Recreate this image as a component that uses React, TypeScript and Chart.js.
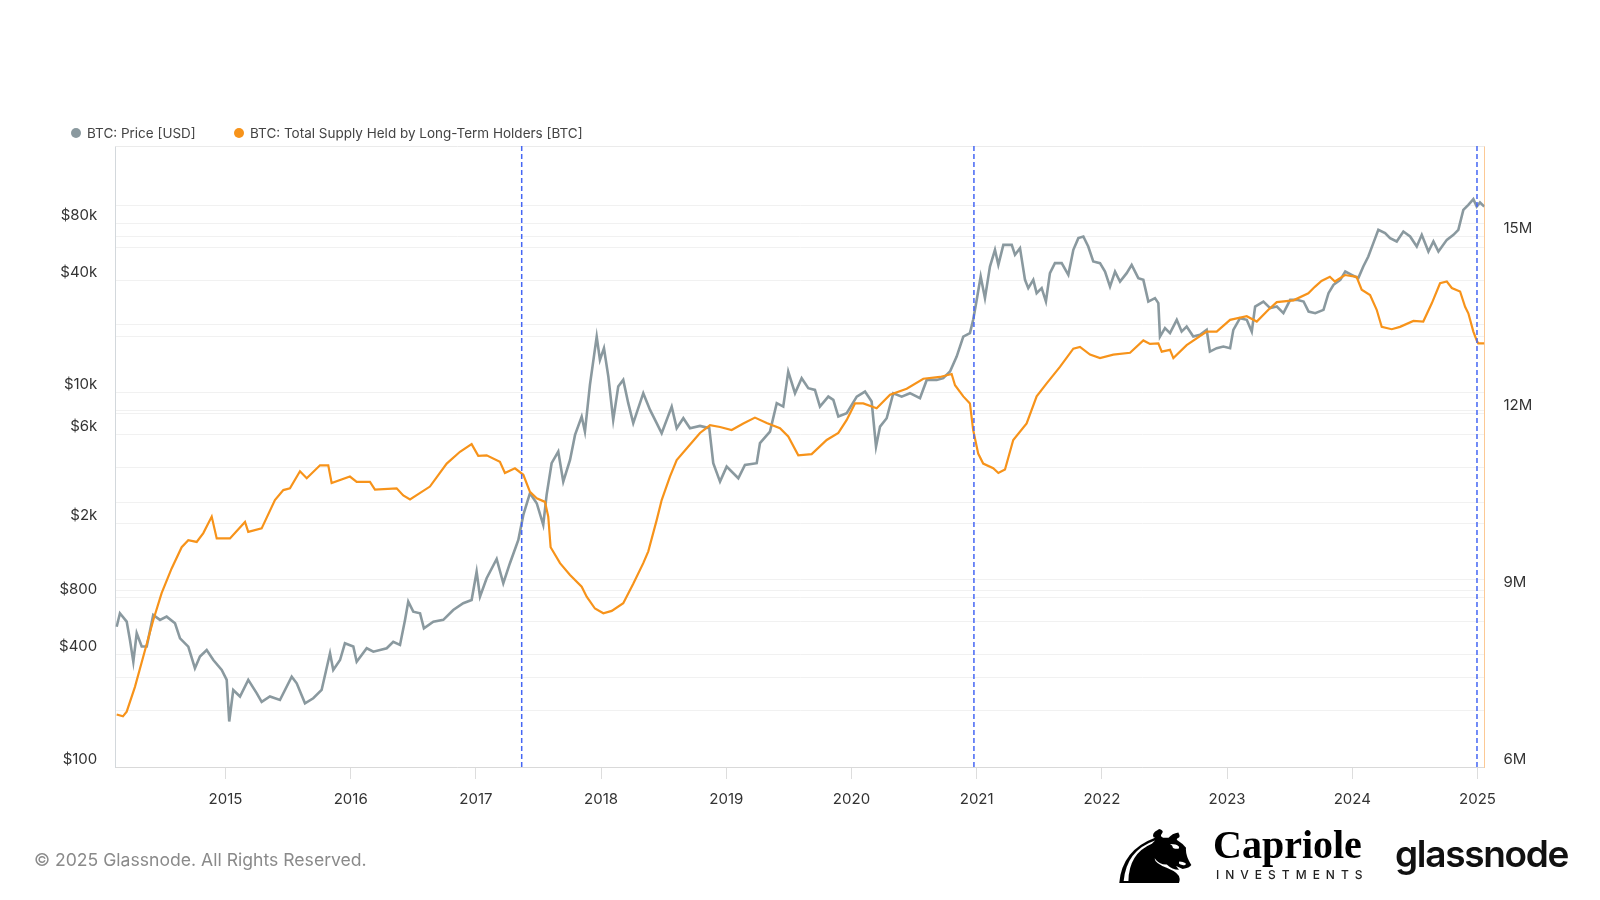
import { useEffect, useRef } from "react"
import { Chart, registerables } from "chart.js"

Chart.register(...registerables)

// BTC price (USD), x as decimal years
const priceYears = [
  2014.131, 2014.157, 2014.211, 2014.237, 2014.264, 2014.291, 2014.331, 2014.371, 2014.423, 2014.477,
  2014.53, 2014.597, 2014.637, 2014.703, 2014.756, 2014.796, 2014.85, 2014.903, 2014.97, 2015.01,
  2015.03, 2015.062, 2015.116, 2015.182, 2015.249, 2015.289, 2015.355, 2015.435, 2015.529, 2015.569,
  2015.635, 2015.701, 2015.768, 2015.835, 2015.861, 2015.915, 2015.954, 2016.021, 2016.048, 2016.128,
  2016.181, 2016.288, 2016.34, 2016.394, 2016.434, 2016.46, 2016.5, 2016.554, 2016.585, 2016.66,
  2016.74, 2016.819, 2016.899, 2016.966, 2017.006, 2017.033, 2017.086, 2017.166, 2017.219, 2017.272,
  2017.339, 2017.379, 2017.432, 2017.486, 2017.538, 2017.565, 2017.605, 2017.658, 2017.698, 2017.752,
  2017.792, 2017.845, 2017.871, 2017.911, 2017.965, 2017.991, 2018.023, 2018.058, 2018.097, 2018.137,
  2018.177, 2018.217, 2018.257, 2018.337, 2018.391, 2018.444, 2018.484, 2018.564, 2018.604, 2018.657,
  2018.71, 2018.79, 2018.864, 2018.896, 2018.95, 2019.003, 2019.096, 2019.149, 2019.243, 2019.269,
  2019.349, 2019.403, 2019.455, 2019.495, 2019.549, 2019.602, 2019.655, 2019.708, 2019.748, 2019.815,
  2019.855, 2019.895, 2019.962, 2020.042, 2020.108, 2020.161, 2020.196, 2020.228, 2020.281, 2020.334,
  2020.401, 2020.467, 2020.547, 2020.601, 2020.681, 2020.733, 2020.787, 2020.84, 2020.893, 2020.946,
  2020.972, 2021.0, 2021.032, 2021.066, 2021.106, 2021.146, 2021.173, 2021.213, 2021.28, 2021.306,
  2021.346, 2021.386, 2021.412, 2021.452, 2021.479, 2021.519, 2021.553, 2021.585, 2021.625, 2021.679,
  2021.732, 2021.772, 2021.812, 2021.852, 2021.891, 2021.931, 2021.985, 2022.025, 2022.065, 2022.105,
  2022.145, 2022.198, 2022.238, 2022.291, 2022.331, 2022.371, 2022.424, 2022.451, 2022.464, 2022.504,
  2022.544, 2022.598, 2022.637, 2022.677, 2022.73, 2022.784, 2022.837, 2022.863, 2022.917, 2022.97,
  2023.024, 2023.05, 2023.103, 2023.157, 2023.197, 2023.224, 2023.29, 2023.344, 2023.397, 2023.45,
  2023.504, 2023.557, 2023.611, 2023.651, 2023.704, 2023.77, 2023.81, 2023.85, 2023.904, 2023.944,
  2023.995, 2024.048, 2024.088, 2024.128, 2024.168, 2024.208, 2024.262, 2024.302, 2024.355, 2024.408,
  2024.462, 2024.515, 2024.555, 2024.608, 2024.648, 2024.688, 2024.755, 2024.808, 2024.847, 2024.887,
  2024.927, 2024.967, 2024.994, 2025.02, 2025.054,
]
const priceUsd = [
  562, 663, 598, 477, 365, 518, 440, 440, 649, 611,
  636, 586, 487, 440, 337, 389, 422, 373, 330, 292,
  175, 258, 238, 292, 248, 223, 238, 228, 304, 280,
  219, 233, 258, 405, 330, 373, 458, 440, 365, 431,
  413, 431, 467, 449, 611, 765, 676, 663, 551, 598,
  611, 690, 750, 781, 1106, 813, 1020, 1293, 959, 1227,
  1634, 2223, 2903, 2567, 1966, 2843, 4200, 4844, 3349, 4374,
  5950, 7454, 6196, 11010, 19940, 14970, 17290, 12190, 7154, 10780,
  11700, 8788, 6871, 9938, 8091, 6871, 6074, 8426, 6463, 7305,
  6463, 6647, 6463, 4200, 3349, 4027, 3491, 4113, 4200, 5372,
  6196, 8788, 8426, 12970, 9938, 11950, 10570, 10350, 8426, 9532,
  9152, 7454, 7768, 9532, 10140, 8965, 5152, 6588, 7305, 9938,
  9532, 9938, 9346, 11700, 11700, 11950, 12970, 15590, 19940, 20800,
  24500, 31300, 41740, 32000, 47210, 57980, 48210, 61660, 61660, 54520,
  59200, 40080, 36180, 40080, 34020, 36180, 30690, 43520, 49220, 49220,
  42620, 57980, 66960, 68290, 60380, 50210, 49220, 44380, 36900, 44380,
  39250, 43520, 48210, 40930, 40080, 30690, 32000, 30090, 19940, 22120,
  20800, 24500, 21210, 22560, 19940, 20370, 21660, 16580, 17290, 17640,
  17290, 21660, 25020, 24500, 21210, 28860, 30690, 28290, 28860, 26600,
  31330, 31330, 30690, 27130, 26600, 27700, 34020, 37700, 40080, 44380,
  42620, 40930, 47210, 53390, 62950, 74160, 71180, 66960, 64220, 72620,
  68290, 60380, 69740, 56780, 64220, 56780, 65560, 69740, 74160, 94850,
  100900, 108200, 98800, 103800, 98800,
]

// Total supply held by long-term holders, millions of BTC
const lthYears = [
  2014.131, 2014.181, 2014.211, 2014.277, 2014.343, 2014.423, 2014.49, 2014.57, 2014.65, 2014.703,
  2014.77, 2014.823, 2014.89, 2014.93, 2015.036, 2015.156, 2015.182, 2015.289, 2015.395, 2015.462,
  2015.515, 2015.595, 2015.649, 2015.755, 2015.821, 2015.848, 2015.994, 2016.048, 2016.154, 2016.194,
  2016.367, 2016.42, 2016.474, 2016.633, 2016.767, 2016.873, 2016.966, 2017.019, 2017.086, 2017.192,
  2017.232, 2017.312, 2017.379, 2017.432, 2017.486, 2017.552, 2017.578, 2017.597, 2017.672, 2017.752,
  2017.845, 2017.885, 2017.951, 2018.018, 2018.085, 2018.177, 2018.257, 2018.337, 2018.377, 2018.444,
  2018.484, 2018.55, 2018.604, 2018.697, 2018.79, 2018.87, 2018.95, 2019.043, 2019.136, 2019.229,
  2019.323, 2019.429, 2019.495, 2019.575, 2019.682, 2019.802, 2019.895, 2019.962, 2020.028, 2020.094,
  2020.201, 2020.308, 2020.441, 2020.574, 2020.707, 2020.8, 2020.827, 2020.893, 2020.946, 2020.972,
  2021.012, 2021.052, 2021.132, 2021.173, 2021.226, 2021.292, 2021.399, 2021.479, 2021.559, 2021.665,
  2021.772, 2021.825, 2021.905, 2021.985, 2022.091, 2022.225, 2022.331, 2022.384, 2022.451, 2022.478,
  2022.544, 2022.571, 2022.677, 2022.837, 2022.917, 2023.024, 2023.157, 2023.237, 2023.33, 2023.397,
  2023.53, 2023.649, 2023.701, 2023.754, 2023.821, 2023.861, 2023.941, 2024.034, 2024.075, 2024.142,
  2024.195, 2024.235, 2024.315, 2024.381, 2024.488, 2024.567, 2024.635, 2024.701, 2024.755, 2024.795,
  2024.861, 2024.901, 2024.927, 2024.967, 2024.994, 2025.006, 2025.054,
]
const lthSupply = [
  6.89, 6.86, 6.94, 7.36, 7.87, 8.49, 8.95, 9.37, 9.73, 9.85,
  9.82, 9.97, 10.25, 9.88, 9.88, 10.16, 9.99, 10.05, 10.53, 10.7,
  10.73, 11.02, 10.9, 11.12, 11.12, 10.82, 10.93, 10.84, 10.84, 10.71,
  10.73, 10.61, 10.54, 10.76, 11.15, 11.35, 11.48, 11.28, 11.29, 11.18,
  10.99, 11.07, 10.96, 10.67, 10.56, 10.5, 10.25, 9.73, 9.46, 9.26,
  9.06, 8.89, 8.69, 8.61, 8.65, 8.78, 9.11, 9.46, 9.66, 10.19,
  10.53, 10.93, 11.21, 11.44, 11.67, 11.8, 11.77, 11.72, 11.83, 11.93,
  11.84, 11.75, 11.61, 11.29, 11.31, 11.55, 11.67, 11.89, 12.17, 12.17,
  12.09, 12.32, 12.42, 12.59, 12.62, 12.67, 12.48, 12.29, 12.17, 11.72,
  11.32, 11.15, 11.07, 10.99, 11.05, 11.55, 11.83, 12.29, 12.51, 12.79,
  13.1, 13.13, 13.0, 12.94, 13.0, 13.03, 13.24, 13.18, 13.19, 13.05,
  13.08, 12.94, 13.16, 13.39, 13.39, 13.59, 13.65, 13.56, 13.76, 13.89,
  13.92, 14.04, 14.15, 14.25, 14.32, 14.24, 14.35, 14.32, 14.1, 14.01,
  13.76, 13.47, 13.43, 13.47, 13.57, 13.56, 13.87, 14.21, 14.24, 14.13,
  14.07, 13.81, 13.7, 13.39, 13.24, 13.19, 13.19,
]

const yearTicks = [2015, 2016, 2017, 2018, 2019, 2020, 2021, 2022, 2023, 2024, 2025]
const priceGridValues = [
  100, 200, 300, 400, 600, 800, 1000, 2000, 2600, 4000, 6000, 8000,
  10000, 20000, 23000, 40000, 60000, 80000, 100000,
]
const priceLabelValues = [100, 400, 800, 2000, 6000, 10000, 40000, 80000]
const supplyTicks = [6, 9, 12, 15]
const cycleMarkers = [2017.366, 2020.978, 2024.996]

const fmtPrice = (v: number) => (v >= 1000 ? `$${v / 1000}k` : `$${v}`)

const overlayPlugin = {
  id: "overlay",
  afterDatasetsDraw(chart: any) {
    const { ctx, chartArea, scales } = chart
    ctx.save()
    // top frame line
    ctx.strokeStyle = "#ebebeb"
    ctx.lineWidth = 1
    ctx.beginPath()
    ctx.moveTo(chartArea.left, chartArea.top + 0.5)
    ctx.lineTo(chartArea.right, chartArea.top + 0.5)
    ctx.stroke()
    // dashed cycle markers
    ctx.strokeStyle = "#4566f4"
    ctx.lineWidth = 1.5
    ctx.setLineDash([5, 3])
    cycleMarkers.forEach((v) => {
      const x = scales.x.getPixelForValue(v)
      ctx.beginPath()
      ctx.moveTo(x, chartArea.top)
      ctx.lineTo(x, chartArea.bottom)
      ctx.stroke()
    })
    ctx.restore()
  },
}

export default function App() {
  const chartRef = useRef<HTMLCanvasElement | null>(null)
  const chartInstance = useRef<Chart | null>(null)

  useEffect(() => {
    document.body.style.margin = "0"
    if (!chartRef.current) return
    if (chartInstance.current) chartInstance.current.destroy()

    const tickFont = { family: "Inter, sans-serif", size: 15 }

    chartInstance.current = new Chart(chartRef.current, {
      type: "line",
      data: {
        datasets: [
          {
            label: "BTC: Total Supply Held by Long-Term Holders [BTC]",
            data: lthYears.map((x, i) => ({ x, y: lthSupply[i] })),
            yAxisID: "supply",
            borderColor: "#f7931a",
            borderWidth: 2.2,
            pointRadius: 0,
            order: 0,
          },
          {
            label: "BTC: Price [USD]",
            data: priceYears.map((x, i) => ({ x, y: priceUsd[i] })),
            yAxisID: "price",
            borderColor: "#8a999f",
            borderWidth: 2.6,
            pointRadius: 0,
            order: 1,
          },
        ],
      },
      options: {
        responsive: false,
        animation: false,
        layout: { padding: { top: 146, bottom: 93, left: 0, right: 0 } },
        plugins: {
          legend: { display: false },
          tooltip: { enabled: false },
        },
        scales: {
          x: {
            type: "linear",
            min: 2014.12,
            max: 2025.056,
            afterBuildTicks: (s: any) => {
              s.ticks = yearTicks.map((value) => ({ value }))
            },
            afterFit: (s: any) => {
              s.height = 40
            },
            grid: { drawOnChartArea: false, drawTicks: true, tickLength: 12, tickColor: "#dddddd" },
            border: { color: "#d9d9d9" },
            ticks: {
              color: "#333",
              font: tickFont,
              padding: 11,
              maxRotation: 0,
              autoSkip: false,
              callback: (v: any) => String(v),
            },
          },
          price: {
            type: "logarithmic",
            position: "left",
            min: 100,
            max: 208000,
            afterBuildTicks: (s: any) => {
              s.ticks = priceGridValues.map((value) => ({ value }))
            },
            afterFit: (s: any) => {
              s.width = 115.3
            },
            grid: { color: "#f1f1f1", drawTicks: false },
            border: { color: "#d3d8dc" },
            ticks: {
              color: "#333",
              font: tickFont,
              padding: 18,
              labelOffset: -8,
              autoSkip: false,
              callback: (v: any) => (priceLabelValues.includes(v) ? fmtPrice(v) : ""),
            },
          },
          supply: {
            type: "linear",
            position: "right",
            min: 6,
            max: 16.54,
            afterBuildTicks: (s: any) => {
              s.ticks = supplyTicks.map((value) => ({ value }))
            },
            afterFit: (s: any) => {
              s.width = 115.5
            },
            grid: { color: "#f1f1f1", drawTicks: false },
            border: { color: "#fcc995" },
            ticks: {
              color: "#333",
              font: tickFont,
              padding: 19,
              labelOffset: -8,
              callback: (v: any) => `${v}M`,
            },
          },
        },
      },
      plugins: [overlayPlugin],
    })

    return () => {
      if (chartInstance.current) {
        chartInstance.current.destroy()
        chartInstance.current = null
      }
    }
  }, [])

  const legendText = { position: "absolute" as const, top: 125, fontSize: 13.5, lineHeight: "16px", color: "#444" }
  const dot = (bg: string, left: number) => ({
    position: "absolute" as const,
    left,
    top: 128,
    width: 10,
    height: 10,
    borderRadius: 5,
    background: bg,
  })

  return (
    <div style={{ position: "relative", width: 1600, height: 900, background: "#fff", fontFamily: "Inter, sans-serif" }}>
      <canvas ref={chartRef} width={1600} height={900} style={{ position: "absolute", left: 0, top: 0 }} />

      <span style={dot("#8a999f", 70.5)} />
      <span style={{ ...legendText, left: 87 }}>BTC: Price [USD]</span>
      <span style={dot("#f7931a", 234)} />
      <span style={{ ...legendText, left: 250 }}>BTC: Total Supply Held by Long-Term Holders [BTC]</span>

      <div style={{ position: "absolute", left: 34, top: 850, fontSize: 17.6, lineHeight: "20px", color: "#8a8a8a" }}>
        © 2025 Glassnode. All Rights Reserved.
      </div>

      <div
        style={{
          position: "absolute",
          left: 1124,
          top: 823,
          fontSize: 70,
          lineHeight: "70px",
          fontFamily: "DejaVu Sans",
          color: "#000",
          transform: "scale(-1.8, 1.06)",
        }}
      >
        ♞
      </div>
      <div
        style={{
          position: "absolute",
          left: 1213,
          top: 825,
          fontSize: 40,
          lineHeight: "40px",
          fontWeight: 700,
          fontFamily: "'Liberation Serif', serif",
          color: "#000",
        }}
      >
        Capriole
      </div>
      <div
        style={{
          position: "absolute",
          left: 1216,
          top: 868,
          fontSize: 12,
          lineHeight: "14px",
          letterSpacing: "6px",
          fontWeight: 500,
          color: "#222",
        }}
      >
        INVESTMENTS
      </div>
      <div
        style={{
          position: "absolute",
          left: 1395,
          top: 835,
          fontSize: 37,
          lineHeight: "37px",
          fontWeight: 600,
          letterSpacing: "-1.3px",
          color: "#111",
        }}
      >
        glassnode
      </div>
    </div>
  )
}
